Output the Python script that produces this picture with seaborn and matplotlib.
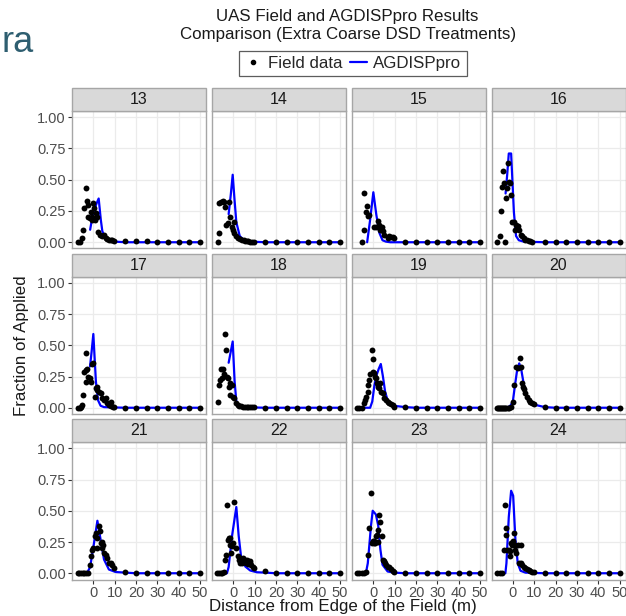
import numpy as np
import pandas as pd
import matplotlib
matplotlib.use("Agg")
import matplotlib.pyplot as plt
import seaborn as sns
from matplotlib.patches import Rectangle
from matplotlib.lines import Line2D

sns.set_theme(style="white")
plt.rcParams['font.family'] = ['Liberation Sans', 'DejaVu Sans']

# ---------------- data ----------------
tail_x = [15, 20, 25, 30, 35, 40, 45, 50]
panels = [13, 14, 15, 16, 17, 18, 19, 20, 21, 22, 23, 24]
x_ticks = [0, 10, 20, 30, 40, 50]
y_ticks = [0.0, 0.25, 0.50, 0.75, 1.00]
y_ticklabels = ["0.00", "0.25", "0.50", "0.75", "1.00"]

f13_x = [-7.4, -6.2, -5.1, -4.7, -4.3, -3.3, -2.8, -2.3, -2.3, -1.5, -0.9, -0.6, -0.5, 0.0, 0.3, 0.6, 1.2, 1.9, 2.2, 3.1, 4.2, 5.0, 5.7, 6.5, 7.3, 8.1, 8.9, 9.6] + tail_x
f13_y = [0, 0, 0.035, 0.10, 0.27, 0.43, 0.33, 0.30, 0.20, 0.19, 0.24, 0.20, 0.18, 0.31, 0.27, 0.18, 0.23, 0.20, 0.08, 0.06, 0.05, 0.055, 0.035, 0.027, 0.02, 0.016, 0.014, 0.008,
         0.012, 0.012, 0.008, 0, 0, 0, 0, 0]
m13_x = [-1.5, -0.5, 0.5, 1.5, 2.5, 3.5, 4.2, 5.5, 8.0, 10.0] + tail_x
m13_y = [0.10, 0.20, 0.26, 0.31, 0.35, 0.18, 0.09, 0.03, 0.01, 0.005, 0, 0, 0, 0, 0, 0, 0, 0]

f14_x = [-7.3, -6.8, -6.5, -5.7, -5.0, -4.2, -3.7, -3.4, -2.6, -1.9, -1.4, -0.6, -0.3, 0.15, 0.5, 1.4, 2.2, 3.0, 4.0, 4.8, 5.6, 6.4, 7.1, 7.9, 8.7, 9.5] + tail_x
f14_y = [0, 0.076, 0.31, 0.32, 0.33, 0.32, 0.28, 0.14, 0.15, 0.32, 0.20, 0.12, 0.10, 0.16, 0.076, 0.05, 0.035, 0.027, 0.016, 0.014, 0.01, 0.008, 0.008, 0.005, 0.005, 0.005,
         0, 0, 0, 0, 0, 0, 0, 0]
m14_x = [-2.2, -1.2, -0.3, 0.6, 1.4, 3.0, 4.8, 8.0] + tail_x
m14_y = [0.225, 0.38, 0.54, 0.33, 0.16, 0.05, 0.02, 0.005, 0, 0, 0, 0, 0, 0, 0, 0]

f15_x = [-5.3, -4.6, -4.2, -3.4, -2.9, -2.6, -1.9, 0.5, 1.2, 2.0, 2.5, 3.3, 3.9, 4.3, 4.8, 6.7, 7.4, 8.2, 9.0, 9.8] + tail_x
f15_y = [0, 0.10, 0.39, 0.24, 0.29, 0.21, 0.22, 0.12, 0.12, 0.17, 0.14, 0.10, 0.12, 0.09, 0.06, 0.035, 0.05, 0.045, 0.045, 0.035,
         0, 0, 0, 0, 0, 0, 0, 0]
m15_x = [-2.9, -1.5, 0.0, 1.4, 2.8, 4.3, 5.9, 8.0] + tail_x
m15_y = [0, 0.18, 0.40, 0.22, 0.076, 0.016, 0.005, 0, 0, 0, 0, 0, 0, 0, 0, 0]

f16_x = [-7.3, -6.2, -3.9, -5.7, -4.6, -5.3, -4.2, -3.4, -2.9, -2.3, -1.9, -1.4, -0.8, -0.3, 0.5, 1.2, 1.7, 2.3, 2.8, 3.6, 4.3, 5.1, 5.9, 6.7, 7.4, 8.2, 9.0] + tail_x
f16_y = [0, 0.05, 0, 0.25, 0.57, 0.44, 0.47, 0.35, 0.43, 0.63, 0.48, 0.47, 0.375, 0.16, 0.16, 0.10, 0.14, 0.13, 0.10, 0.06, 0.05, 0.035, 0.02, 0.014, 0.01, 0.008, 0.005,
         0, 0, 0, 0, 0, 0, 0, 0]
m16_x = [-3.4, -2.6, -1.9, -0.8, 0.5, 1.5, 2.8, 5.1] + tail_x
m16_y = [0.39, 0.55, 0.71, 0.71, 0.24, 0.05, 0.016, 0.005, 0, 0, 0, 0, 0, 0, 0, 0]

f17_x = [-7.1, -6.2, -5.6, -5.1, -4.7, -4.35, -3.3, -3.6, -2.8, -3.6, -2.3, -1.7, -1.2, -0.5, 0.0, 0.8, 1.1, 1.6, 1.9, 2.6, 3.4, 4.2, 5.0, 5.7, 6.5, 7.3, 8.1, 8.5, 9.3, 9.9] + tail_x
f17_y = [0, 0, 0.01, 0.02, 0.10, 0.29, 0.44, 0.30, 0.31, 0.21, 0.25, 0.24, 0.21, 0.35, 0.36, 0.09, 0.16, 0.14, 0.17, 0.13, 0.12, 0.076, 0.06, 0.076, 0.035, 0.02, 0.05, 0.016, 0.008, 0.008,
         0, 0, 0, 0, 0, 0, 0, 0]
m17_x = [-1.55, -0.8, 0.0, 0.6, 1.2, 2.2, 3.4, 5.0] + tail_x
m17_y = [0.33, 0.45, 0.59, 0.40, 0.21, 0.06, 0.016, 0.005, 0, 0, 0, 0, 0, 0, 0, 0]

f18_x = [-7.3, -6.8, -6.4, -5.7, -5.3, -4.8, -4.5, -3.7, -3.4, -3.0, -2.6, -2.2, -1.7, -1.4, -0.6, -0.3, 0.5, 1.2, 2.0, 2.8, 3.6, 4.5, 5.3, 6.4, 7.1, 7.9, 8.7, 9.5] + tail_x
f18_y = [0.05, 0.185, 0.225, 0.31, 0.24, 0.31, 0.27, 0.59, 0.46, 0.25, 0.24, 0.17, 0.20, 0.10, 0.185, 0.09, 0.076, 0.035, 0.02, 0.016, 0.014, 0.01, 0.008, 0.005, 0.005, 0.005, 0.005, 0.005,
         0, 0, 0, 0, 0, 0, 0, 0]
m18_x = [-2.2, -1.2, -0.3, 0.6, 1.4, 2.5, 4.0] + tail_x
m18_y = [0.36, 0.45, 0.53, 0.21, 0.05, 0.016, 0.005, 0, 0, 0, 0, 0, 0, 0, 0]

f19_x = [-7.6, -6.5, -5.4, -4.5, -3.9, -3.4, -2.6, -2.3, -1.9, -1.4, -0.8, 0.0, -0.3, 0.5, 0.8, 1.2, 1.5, 2.0, 2.3, 2.8, 3.3, 3.6, 4.3, 5.1, 5.9, 6.7, 7.4, 8.2, 9.0, 9.8] + tail_x
f19_y = [0, 0, 0, 0.035, 0.06, 0.09, 0.13, 0.185, 0.225, 0.27, 0.46, 0.39, 0.29, 0.28, 0.25, 0.24, 0.20, 0.185, 0.17, 0.16, 0.20, 0.13, 0.12, 0.076, 0.06, 0.045, 0.035, 0.027, 0.02, 0.008,
         0.005, 0, 0, 0, 0, 0, 0, 0]
m19_x = [-7.5, -1.5, -0.5, 0.5, 1.5, 2.5, 3.5, 4.5, 5.5, 6.5, 8.0, 10.0] + tail_x
m19_y = [0, 0, 0.05, 0.18, 0.26, 0.31, 0.35, 0.25, 0.13, 0.07, 0.035, 0.015, 0.005, 0, 0, 0, 0, 0, 0, 0]

f20_x = [-7.5, -7.0, -6.5, -6.0, -5.5, -5.0, -4.5, -4.0, -3.5, -3.0, -2.5, -2.0, -1.0, 0.0, 0.5, 1.5, 2.3, 3.3, 3.6, 4.3, 4.8, 5.3, 5.9, 6.7, 7.4, 8.2, 9.0, 9.8] + tail_x
f20_y = [0, 0, 0, 0, 0, 0, 0, 0, 0, 0, 0, 0, 0.01, 0.05, 0.185, 0.33, 0.32, 0.40, 0.33, 0.20, 0.17, 0.15, 0.12, 0.09, 0.06, 0.045, 0.035, 0.027,
         0.005, 0, 0, 0, 0, 0, 0, 0]
m20_x = [-7.5, -2.5, -1.0, 0.0, 1.0, 2.0, 3.0, 4.0, 5.0, 6.0, 7.0, 8.0, 10.0] + tail_x
m20_y = [0, 0, 0.02, 0.05, 0.18, 0.30, 0.355, 0.30, 0.20, 0.12, 0.08, 0.05, 0.025, 0.005, 0, 0, 0, 0, 0, 0, 0]

f21_x = [-7.1, -6.5, -5.8, -5.0, -4.4, -3.6, -2.5, -1.55, -0.9, -0.5, 0.0, 0.6, 1.1, 1.6, 1.9, 2.6, 3.1, 3.4, 3.9, 4.2, 4.7, 5.0, 5.7, 6.5, 7.3, 8.1, 8.9, 9.6] + tail_x
f21_y = [0, 0, 0, 0, 0, 0, 0, 0.07, 0.135, 0.19, 0.20, 0.30, 0.32, 0.28, 0.20, 0.38, 0.34, 0.24, 0.25, 0.20, 0.23, 0.16, 0.15, 0.12, 0.08, 0.086, 0.068, 0.04,
         0.01, 0.005, 0.005, 0, 0, 0, 0, 0]
m21_x = [-7.5, -3.0, -1.5, 0.3, 1.9, 3.4, 5.0, 7.3, 10.4] + tail_x
m21_y = [0, 0, 0.05, 0.24, 0.42, 0.27, 0.11, 0.03, 0.01, 0.005, 0, 0, 0, 0, 0, 0, 0]

f22_x = [-7.6, -6.8, -6.0, -5.3, -4.5, -3.7, -3.3, -2.95, -2.5, -2.2, -1.7, -1.4, -1.1, -0.6, -0.3, 0.15, 1.4, 2.0, 2.5, 3.0, 3.3, 3.6, 4.0, 4.5, 4.8, 5.3, 5.9, 6.4, 6.8, 7.1, 7.6, 7.9, 8.4, 9.2, 9.8] + tail_x
f22_y = [0, 0, 0, 0, 0.014, 0.11, 0.15, 0.55, 0.27, 0.28, 0.23, 0.28, 0.16, 0.22, 0.24, 0.57, 0.20, 0.135, 0.11, 0.08, 0.12, 0.11, 0.086, 0.12, 0.095, 0.11, 0.08, 0.11, 0.095, 0.076, 0.095, 0.08, 0.068, 0.05, 0.04,
         0.02, 0, 0, 0, 0, 0, 0, 0]
m22_x = [-7.5, -3.0, -2.2, -0.6, 1.4, 2.5, 3.6, 5.6, 7.9, 11.0] + tail_x
m22_y = [0, 0, 0.05, 0.30, 0.53, 0.30, 0.135, 0.054, 0.022, 0.008, 0.005, 0, 0, 0, 0, 0, 0, 0]

f23_x = [-7.6, -6.5, -5.4, -4.5, -3.4, -2.6, -1.9, -1.1, -0.8, -0.3, 0.15, 0.5, 0.9, 1.2, 1.7, 2.0, 2.3, 2.8, 3.3, 3.9, 4.3, 4.8, 5.4, 5.9, 6.7, 7.4, 8.2, 9.0, 9.8] + tail_x
f23_y = [0, 0, 0, 0.005, 0.014, 0.15, 0.36, 0.64, 0.24, 0.26, 0.24, 0.26, 0.24, 0.30, 0.31, 0.25, 0.35, 0.47, 0.41, 0.30, 0.11, 0.095, 0.08, 0.068, 0.054, 0.05, 0.032, 0.022, 0.014,
         0.005, 0, 0, 0, 0, 0, 0, 0]
m23_x = [-7.5, -3.5, -2.6, -1.1, -0.3, 1.2, 2.3, 3.3, 4.3, 6.7, 9.8] + tail_x
m23_y = [0, 0, 0.08, 0.38, 0.50, 0.47, 0.38, 0.19, 0.068, 0.014, 0.005, 0, 0, 0, 0, 0, 0, 0, 0]

f24_x = [-7.3, -6.1, -5.0, -4.2, -3.9, -3.4, -3.0, -2.6, -1.9, -1.4, -1.1, -0.8, -0.3, 0.15, 0.5, 0.8, 1.2, 1.7, 2.3, 2.8, 3.6, 3.9, 4.3, 5.1, 5.9, 6.7, 7.5, 8.2, 9.0, 9.8] + tail_x
f24_y = [0, 0, 0, 0.19, 0.55, 0.36, 0.31, 0.19, 0.19, 0.175, 0.135, 0.24, 0.23, 0.26, 0.32, 0.23, 0.19, 0.16, 0.23, 0.08, 0.23, 0.08, 0.068, 0.054, 0.04, 0.032, 0.027, 0.022, 0.014, 0.01,
         0.005, 0, 0, 0, 0, 0, 0, 0]
m24_x = [-7.5, -3.5, -3.0, -1.9, -0.8, 0.15, 1.2, 2.3, 3.6, 5.9] + tail_x
m24_y = [0, 0, 0.08, 0.45, 0.66, 0.62, 0.27, 0.08, 0.02, 0.005, 0, 0, 0, 0, 0, 0, 0, 0]

field = {13: (f13_x, f13_y), 14: (f14_x, f14_y), 15: (f15_x, f15_y), 16: (f16_x, f16_y),
         17: (f17_x, f17_y), 18: (f18_x, f18_y), 19: (f19_x, f19_y), 20: (f20_x, f20_y),
         21: (f21_x, f21_y), 22: (f22_x, f22_y), 23: (f23_x, f23_y), 24: (f24_x, f24_y)}
model = {13: (m13_x, m13_y), 14: (m14_x, m14_y), 15: (m15_x, m15_y), 16: (m16_x, m16_y),
         17: (m17_x, m17_y), 18: (m18_x, m18_y), 19: (m19_x, m19_y), 20: (m20_x, m20_y),
         21: (m21_x, m21_y), 22: (m22_x, m22_y), 23: (m23_x, m23_y), 24: (m24_x, m24_y)}

field_df = pd.concat([pd.DataFrame({"panel": p, "x": field[p][0], "y": field[p][1]}) for p in panels])
model_df = pd.concat([pd.DataFrame({"panel": p, "x": model[p][0], "y": model[p][1]}) for p in panels])

# ---------------- layout ----------------
W, H = 626, 616
fig = plt.figure(figsize=(W / 100, H / 100), dpi=100)
col_left = [72, 212, 352, 491.5]
strip_top = [88, 253.5, 419]
pw, sh, ph = 134, 23, 137.5
border = '#A6A6A6'
txt_col = '#4D4D4D'

for i, p in enumerate(panels):
    r, c = divmod(i, 4)
    l = col_left[c]
    t = strip_top[r] + sh
    ax = fig.add_axes([l / W, 1 - (t + ph) / H, pw / W, ph / H])
    fd = field_df[field_df.panel == p]
    md = model_df[model_df.panel == p]
    sns.lineplot(data=md, x="x", y="y", ax=ax, color='#0000FF', lw=1.6,
                 estimator=None, sort=True, zorder=3)
    sns.scatterplot(data=fd, x="x", y="y", ax=ax, color='black', s=18,
                    linewidth=0, zorder=4)
    ax.set_xlim(-10, 52.8)
    ax.set_ylim(-0.05, 1.05)
    ax.set_xticks(x_ticks)
    ax.set_yticks(y_ticks)
    ax.grid(True, color='#EBEBEB', lw=0.9)
    ax.set_axisbelow(True)
    ax.set_xlabel("")
    ax.set_ylabel("")
    for s in ax.spines.values():
        s.set_color(border)
        s.set_linewidth(1.0)
    ax.tick_params(axis='both', length=3, width=0.8, color='#333333',
                   labelsize=10.5, labelcolor=txt_col, pad=1.5)
    if c == 0:
        ax.set_yticklabels(y_ticklabels)
        ax.tick_params(axis='y', left=True)
    else:
        ax.tick_params(axis='y', left=False, labelleft=False)
    if r == 2:
        ax.set_xticklabels([str(v) for v in x_ticks])
        ax.tick_params(axis='x', bottom=True)
    else:
        ax.tick_params(axis='x', bottom=False, labelbottom=False)
    # strip
    ax.add_patch(Rectangle((0, 1), 1, sh / ph, transform=ax.transAxes,
                           clip_on=False, fc='#D9D9D9', ec=border, lw=1.0, zorder=5))
    ax.text(0.5, 1 + sh / ph / 2, str(p), transform=ax.transAxes, ha='center',
            va='center', fontsize=11.5, color='#1A1A1A', zorder=6)

# titles and labels
fig.text(347 / W, 1 - 17 / H, "UAS Field and AGDISPpro Results", ha='center',
         va='center', fontsize=12.2, color='#1A1A1A')
fig.text(348 / W, 1 - 35 / H, "Comparison (Extra Coarse DSD Treatments)", ha='center',
         va='center', fontsize=12.2, color='#1A1A1A')
fig.text(22 / W, 1 - 346 / H, "Fraction of Applied", rotation=90, ha='center',
         va='center', fontsize=12.2, color='#1A1A1A')
fig.text(343 / W, 1 - 606 / H, "Distance from Edge of the Field (m)", ha='center',
         va='center', fontsize=12.2, color='#1A1A1A')
fig.text(2 / W, 1 - 52 / H, "ra", ha='left', va='baseline', fontsize=26, color='#2E5E70')

handles = [Line2D([], [], marker='o', ls='', color='black', ms=3.0),
           Line2D([], [], color='#0000FF', lw=1.6)]
leg = fig.legend(handles=handles, labels=["Field data", "AGDISPpro"], ncol=2,
                 loc='center', bbox_to_anchor=(353 / W, 1 - 63.5 / H),
                 frameon=True, fancybox=False, fontsize=12.2, handlelength=1.0,
                 columnspacing=0.4, handletextpad=0.4, borderpad=0.3,
                 borderaxespad=0)
leg.get_frame().set_edgecolor('#333333')
leg.get_frame().set_linewidth(0.9)

fig.savefig("out.png", dpi=100)
